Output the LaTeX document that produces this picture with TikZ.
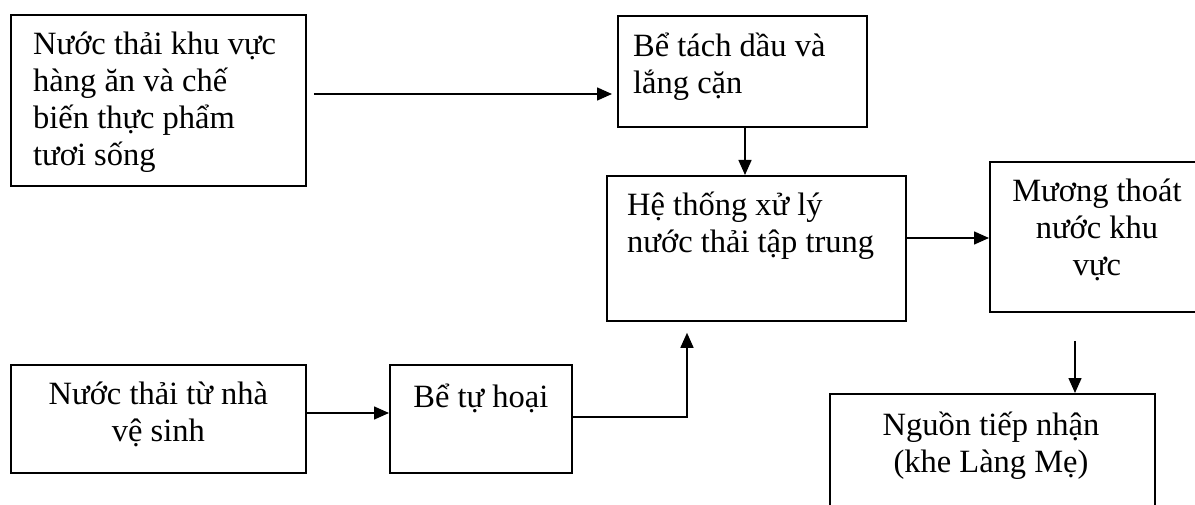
\documentclass[tikz,border=0pt]{standalone}
\usepackage{fontspec}
\setmainfont{Liberation Serif}
\usetikzlibrary{arrows.meta,calc}

\begin{document}
\begin{tikzpicture}[x=1pt,y=-1pt,
  box/.style={draw,line width=1.8pt,rectangle,inner sep=0pt,anchor=north west},
  txt/.style={inner sep=0pt,font=\fontsize{32.5}{37}\selectfont},
  arr/.style={line width=1.5pt,-{Triangle[length=15pt,width=13pt]}}]
\useasboundingbox (0,0) rectangle (1195,505);
\clip (0,0) rectangle (1195,505);

% process boxes
\node[box,minimum width=295pt,minimum height=171pt] (A) at (10,14) {};
\node[box,minimum width=249pt,minimum height=111pt] (B) at (617,15) {};
\node[box,minimum width=299pt,minimum height=145pt] (C) at (606,175) {};
\node[box,minimum width=216pt,minimum height=150pt] (D) at (989,161) {};
\node[box,minimum width=325pt,minimum height=130pt] (E) at (829,393) {};
\node[box,minimum width=295pt,minimum height=108pt] (F) at (10,364) {};
\node[box,minimum width=182pt,minimum height=108pt] (G) at (389,364) {};

% labels
\node[txt,anchor=base west] (tA) at ($(A.north west)+(23,41)$)
  {\parbox[t]{270pt}{\raggedright Nước thải khu vực\\hàng ăn và chế\\biến thực phẩm\\tươi sống}};
\node[txt,anchor=base west] (tB) at ($(B.north west)+(16,42)$)
  {\parbox[t]{230pt}{\raggedright Bể tách dầu và\\lắng cặn}};
\node[txt,anchor=base west] (tC) at ($(C.north west)+(21,41)$)
  {\parbox[t]{275pt}{\raggedright Hệ thống xử lý\\nước thải tập trung}};
\node[txt,anchor=base] (tD) at (1097,202)
  {\parbox[t]{210pt}{\centering Mương thoát\\nước khu\\vực}};
\node[txt,anchor=base] (tE) at (991,435)
  {\parbox[t]{300pt}{\centering Nguồn tiếp nhận\\(khe Làng Mẹ)}};
\node[txt,anchor=base] (tF) at ($(F.north)+(0,40)$)
  {\parbox[t]{290pt}{\centering Nước thải từ nhà\\vệ sinh}};
\node[txt,anchor=base] (tG) at ($(G.north)+(0,43)$)
  {\parbox[t]{180pt}{\centering Bể tự hoại}};

% flow connectors
\draw[arr] ($(A.north east)+(7,80)$) -- ($(B.north west)+(-5,79)$);
\draw[arr] ([xshift=128pt]B.south west) -- ([xshift=139pt]C.north west);
\draw[arr] ([yshift=-63pt]C.north east) -- ([yshift=-77pt]D.north west);
\draw[arr] ([xshift=86pt,yshift=-28pt]D.south west) -- ([xshift=246pt]E.north west);
\draw[arr] ([yshift=-49pt]F.north east) -- ([yshift=-49pt]G.north west);
\draw[arr] ([yshift=-53pt]G.north east) -| ([xshift=81pt,yshift=-11pt]C.south west);
\end{tikzpicture}
\end{document}
